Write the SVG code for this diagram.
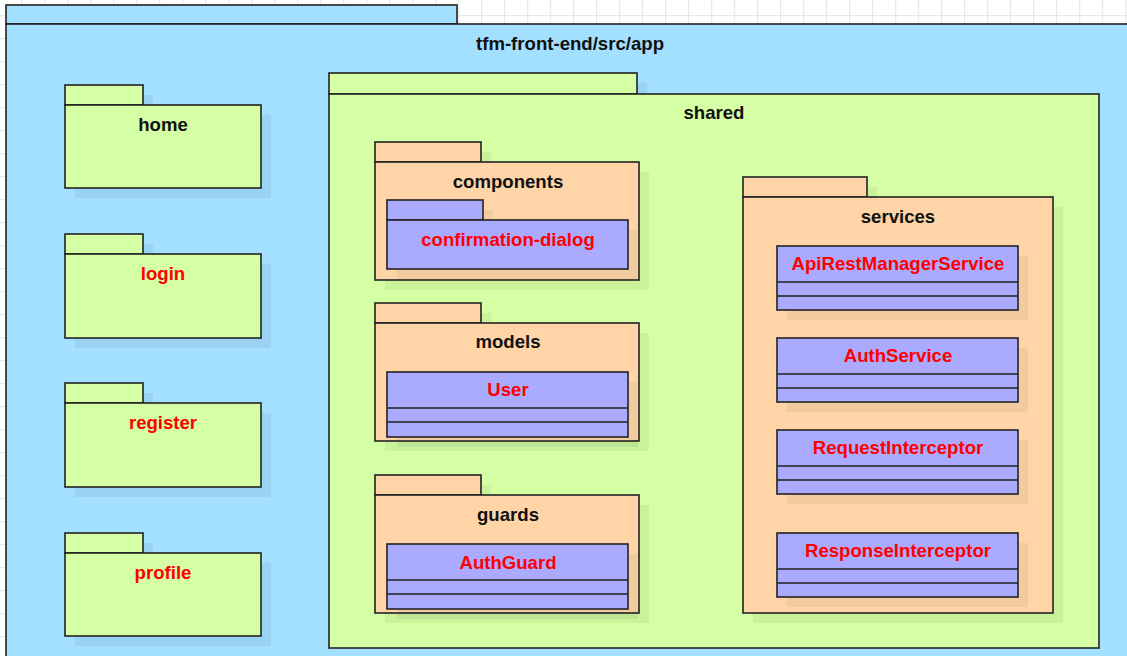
<svg xmlns="http://www.w3.org/2000/svg" width="1127" height="656" viewBox="0 0 1127 656">
  <defs>
    <pattern id="grid" width="23" height="23" patternUnits="userSpaceOnUse" x="-2" y="-8">
      <path d="M0 0.5H23M0.5 0V23" fill="none" stroke="#e8e8e8" stroke-width="1.5"/>
    </pattern>
  </defs>
  <style>
    .ln { stroke: #222; stroke-width: 1.6; }
    .app { fill: #a3dfff; }
    .grn { fill: #d4ffa4; }
    .org { fill: #ffd5a8; }
    .vio { fill: #aaaaff; }
    .sh { fill: #000; opacity: 0.05; }
    text { font-family: "Liberation Sans", Arial, sans-serif; font-weight: bold; font-size: 18.6px; text-anchor: middle; }
    .k { fill: #111; }
    .r { fill: #ff0000; }
  </style>

  <rect width="1127" height="656" fill="#ffffff"/>
  <rect width="1127" height="656" fill="url(#grid)"/>

  <!-- root package -->
  <g id="pkg-app">
    <rect class="app ln" x="6" y="5" width="451" height="19"/>
    <rect class="app ln" x="6" y="24" width="1130" height="640"/>
    <text class="k" x="570" y="50">tfm-front-end/src/app</text>
  </g>

  <!-- top-level feature packages -->
  <g id="pkg-home">
    <rect class="sh" x="75" y="95" width="78" height="20"/>
    <rect class="sh" x="75" y="115" width="196" height="83"/>
    <rect class="grn ln" x="65" y="85" width="78" height="20"/>
    <rect class="grn ln" x="65" y="105" width="196" height="83"/>
    <text class="k" x="163" y="131">home</text>
  </g>
  <g id="pkg-login">
    <rect class="sh" x="75" y="244" width="78" height="20"/>
    <rect class="sh" x="75" y="264" width="196" height="84"/>
    <rect class="grn ln" x="65" y="234" width="78" height="20"/>
    <rect class="grn ln" x="65" y="254" width="196" height="84"/>
    <text class="r" x="163" y="280">login</text>
  </g>
  <g id="pkg-register">
    <rect class="sh" x="75" y="393" width="78" height="20"/>
    <rect class="sh" x="75" y="413" width="196" height="84"/>
    <rect class="grn ln" x="65" y="383" width="78" height="20"/>
    <rect class="grn ln" x="65" y="403" width="196" height="84"/>
    <text class="r" x="163" y="429">register</text>
  </g>
  <g id="pkg-profile">
    <rect class="sh" x="75" y="543" width="78" height="20"/>
    <rect class="sh" x="75" y="563" width="196" height="83"/>
    <rect class="grn ln" x="65" y="533" width="78" height="20"/>
    <rect class="grn ln" x="65" y="553" width="196" height="83"/>
    <text class="r" x="163" y="579">profile</text>
  </g>

  <!-- shared package -->
  <g id="pkg-shared">
    <rect class="sh" x="339" y="83" width="308" height="21"/>
    <rect class="grn ln" x="329" y="73" width="308" height="21"/>
    <rect class="grn ln" x="329" y="94" width="770" height="554"/>
    <text class="k" x="714" y="119">shared</text>
  </g>

  <g id="pkg-components">
    <rect class="sh" x="385" y="152" width="106" height="20"/>
    <rect class="sh" x="385" y="172" width="264" height="118"/>
    <rect class="org ln" x="375" y="142" width="106" height="20"/>
    <rect class="org ln" x="375" y="162" width="264" height="118"/>
    <text class="k" x="508" y="188">components</text>
  </g>
  <g id="pkg-confirmation-dialog">
    <rect class="sh" x="397" y="210" width="96" height="20"/>
    <rect class="sh" x="397" y="230" width="241" height="49"/>
    <rect class="vio ln" x="387" y="200" width="96" height="20"/>
    <rect class="vio ln" x="387" y="220" width="241" height="49"/>
    <text class="r" x="508" y="246">confirmation-dialog</text>
  </g>

  <g id="pkg-models">
    <rect class="sh" x="385" y="313" width="106" height="20"/>
    <rect class="sh" x="385" y="333" width="264" height="118"/>
    <rect class="org ln" x="375" y="303" width="106" height="20"/>
    <rect class="org ln" x="375" y="323" width="264" height="118"/>
    <text class="k" x="508" y="348">models</text>
  </g>
  <g id="cls-user">
    <rect class="sh" x="397" y="382" width="241" height="65"/>
    <rect class="vio ln" x="387" y="372" width="241" height="65"/>
    <path class="ln" d="M387 408H628M387 422H628"/>
    <text class="r" x="508" y="396">User</text>
  </g>

  <g id="pkg-guards">
    <rect class="sh" x="385" y="485" width="106" height="20"/>
    <rect class="sh" x="385" y="505" width="264" height="118"/>
    <rect class="org ln" x="375" y="475" width="106" height="20"/>
    <rect class="org ln" x="375" y="495" width="264" height="118"/>
    <text class="k" x="508" y="521">guards</text>
  </g>
  <g id="cls-authguard">
    <rect class="sh" x="397" y="554" width="241" height="65"/>
    <rect class="vio ln" x="387" y="544" width="241" height="65"/>
    <path class="ln" d="M387 580H628M387 594H628"/>
    <text class="r" x="508" y="569">AuthGuard</text>
  </g>

  <g id="pkg-services">
    <rect class="sh" x="753" y="187" width="124" height="20"/>
    <rect class="sh" x="753" y="207" width="310" height="416"/>
    <rect class="org ln" x="743" y="177" width="124" height="20"/>
    <rect class="org ln" x="743" y="197" width="310" height="416"/>
    <text class="k" x="898" y="223">services</text>
  </g>
  <g id="cls-apirestmanagerservice">
    <rect class="sh" x="787" y="256" width="241" height="64"/>
    <rect class="vio ln" x="777" y="246" width="241" height="64"/>
    <path class="ln" d="M777 282H1018M777 296H1018"/>
    <text class="r" x="898" y="270">ApiRestManagerService</text>
  </g>
  <g id="cls-authservice">
    <rect class="sh" x="787" y="348" width="241" height="64"/>
    <rect class="vio ln" x="777" y="338" width="241" height="64"/>
    <path class="ln" d="M777 374H1018M777 388H1018"/>
    <text class="r" x="898" y="362">AuthService</text>
  </g>
  <g id="cls-requestinterceptor">
    <rect class="sh" x="787" y="440" width="241" height="64"/>
    <rect class="vio ln" x="777" y="430" width="241" height="64"/>
    <path class="ln" d="M777 466H1018M777 480H1018"/>
    <text class="r" x="898" y="454">RequestInterceptor</text>
  </g>
  <g id="cls-responseinterceptor">
    <rect class="sh" x="787" y="543" width="241" height="64"/>
    <rect class="vio ln" x="777" y="533" width="241" height="64"/>
    <path class="ln" d="M777 569H1018M777 583H1018"/>
    <text class="r" x="898" y="557">ResponseInterceptor</text>
  </g>

  <g id="connectors"/>
</svg>
